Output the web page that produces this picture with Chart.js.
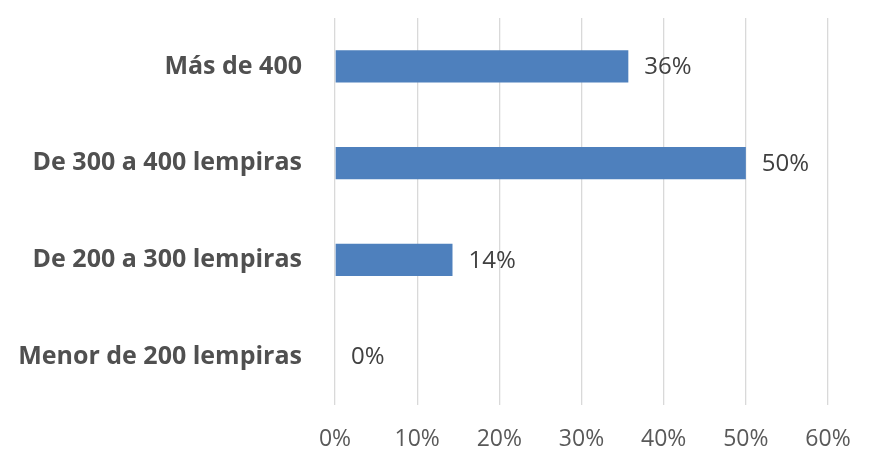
<!DOCTYPE html>
<html>
<head>
<meta charset="utf-8">
<script src="https://cdn.jsdelivr.net/npm/chart.js@4"></script>
<style>
  html, body { margin: 0; padding: 0; background: #ffffff; }
  #wrap { width: 872px; height: 454px; }
</style>
</head>
<body>
<div id="wrap"><canvas id="barChart" width="872" height="454"></canvas></div>
<script>
// Categories (top to bottom) and their share in percent (bar lengths)
const categories = ["Más de 400", "De 300 a 400 lempiras", "De 200 a 300 lempiras", "Menor de 200 lempiras"];
const shares = [35.7, 50, 14.3, 0];
const tickValues = [0, 10, 20, 30, 40, 50, 60];

const FONT = "'Open Sans', sans-serif";

// Draw "NN%" labels at the end of each bar
const valueLabels = {
  id: "valueLabels",
  afterDatasetsDraw(chart) {
    const ctx = chart.ctx;
    const meta = chart.getDatasetMeta(0);
    ctx.save();
    ctx.font = "24px " + FONT;
    ctx.fillStyle = "#404040";
    ctx.textAlign = "left";
    ctx.textBaseline = "middle";
    meta.data.forEach((bar, i) => {
      ctx.fillText(Math.round(shares[i]) + "%", bar.x + 16, bar.y + 1);
    });
    ctx.restore();
  }
};

new Chart(document.getElementById("barChart"), {
  type: "bar",
  data: {
    labels: categories,
    datasets: [
      {
        data: shares,
        backgroundColor: "#4e80bd",
        borderWidth: 0,
        categoryPercentage: 1,
        barPercentage: 0.335,
      },
    ],
  },
  options: {
    indexAxis: "y",
    responsive: false,
    animation: false,
    layout: { padding: { top: 18, right: 44, left: 0, bottom: 0 } },
    plugins: {
      legend: { display: false },
      tooltip: { enabled: false },
    },
    scales: {
      x: {
        min: 0,
        max: 60,
        afterBuildTicks: (scale) => {
          scale.ticks = tickValues.map((v) => ({ value: v }));
        },
        afterFit: (scale) => {
          scale.height = 49;
        },
        grid: { color: "#d9d9d9", lineWidth: 1.3, drawTicks: false },
        border: { display: false },
        ticks: {
          color: "#595959",
          padding: 21,
          font: { family: FONT, size: 23 },
          callback: (v) => v + "%",
        },
      },
      y: {
        grid: { display: false, drawTicks: false },
        border: { display: false },
        afterFit: (scale) => {
          scale.width = 335;
          scale.paddingTop = 0;
          scale.paddingBottom = 0;
        },
        ticks: {
          color: "#505050",
          padding: 33,
          font: { family: FONT, size: 25, weight: "bold" },
        },
      },
    },
  },
  plugins: [valueLabels],
});
</script>
</body>
</html>
